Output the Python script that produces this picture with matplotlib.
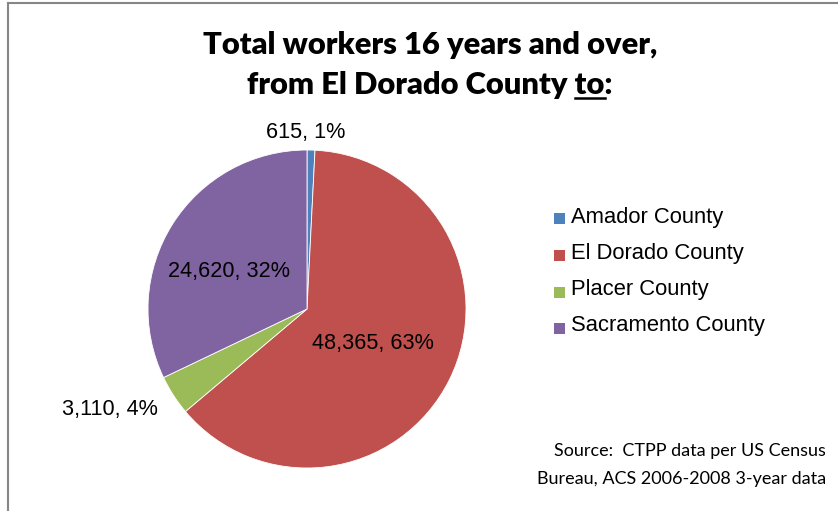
import matplotlib
matplotlib.use("Agg")
import matplotlib.pyplot as plt
from matplotlib.lines import Line2D
from matplotlib.patches import Rectangle

categories = ["Amador County", "El Dorado County", "Placer County", "Sacramento County"]
values = [615, 48365, 3110, 24620]
percents = [1, 63, 4, 32]
colors = ["#4F81BD", "#C0504D", "#9BBB59", "#8064A2"]
# label positions relative to pie (unit radius)
label_pos = [(-0.006, 1.107), (0.415, -0.214), (-1.24, -0.635), (-0.49, 0.233)]

W, H = 838, 511
fig = plt.figure(figsize=(W / 100, H / 100), dpi=100)
fig.patch.set_facecolor("white")

# frame
fig.add_artist(Line2D([8 / W, 8 / W], [0, 1 - 3 / H], transform=fig.transFigure, color="#868686", lw=1.5))
fig.add_artist(Line2D([8 / W, 837 / W], [1 - 3 / H, 1 - 3 / H], transform=fig.transFigure, color="#868686", lw=1.5))

cx, cy, r = 307, 309, 159
ax = fig.add_axes([(cx - r) / W, (H - cy - r) / H, 2 * r / W, 2 * r / H])
ax.pie(values, colors=colors, startangle=90, counterclock=False, radius=1,
       wedgeprops=dict(linewidth=0.6, edgecolor="white"))
ax.set_xlim(-1, 1)
ax.set_ylim(-1, 1)
ax.set_aspect("auto")
ax.axis("off")

for v, p, (lx, ly) in zip(values, percents, label_pos):
    ax.text(lx, ly, f"{v:,}, {p}%", ha="center", va="center", fontsize=15.6,
            family="Liberation Sans", color="black", clip_on=False)

# legend
leg_y = [217, 253, 290, 326]
for c, lab, y in zip(colors, categories, leg_y):
    fig.add_artist(Rectangle((554 / W, (H - y - 7.5) / H), 11 / W, 11 / H,
                             transform=fig.transFigure, facecolor=c, edgecolor="none"))
    fig.text(571 / W, 1 - y / H, lab, ha="left", va="center", fontsize=15.8,
             family="Liberation Sans", color="black")

# title
tfont = dict(family="Lato", weight="heavy", fontsize=22.2, color="black")
t1 = fig.text(430 / W, 1 - 45 / H, "Total workers 16 years and over,", ha="center", va="center", **tfont)
t2 = fig.text(430 / W, 1 - 85 / H, "from El Dorado County to:", ha="center", va="center", **tfont)

fig.canvas.draw()
rend = fig.canvas.get_renderer()
bb = t2.get_window_extent(rend)
tmp = fig.text(0, 0, "from El Dorado County ", **tfont)
w_pre = tmp.get_window_extent(rend).width
tmp2 = fig.text(0, 0, "to", **tfont)
w_to = tmp2.get_window_extent(rend).width
tmp.remove()
tmp2.remove()
x0 = bb.x0 + w_pre
uy = bb.y0 + 1
fig.add_artist(Line2D([x0 / W, (x0 + w_to) / W], [uy / H, uy / H], transform=fig.transFigure,
                      color="black", lw=1.8))

# source
sfont = dict(family="Lato", fontsize=13, color="black")
fig.text(826 / W, 1 - 451 / H, "Source:  CTPP data per US Census", ha="right", va="center", **sfont)
fig.text(826 / W, 1 - 479 / H, "Bureau, ACS 2006-2008 3-year data", ha="right", va="center", **sfont)

fig.savefig("out.png", dpi=100, facecolor="white")
